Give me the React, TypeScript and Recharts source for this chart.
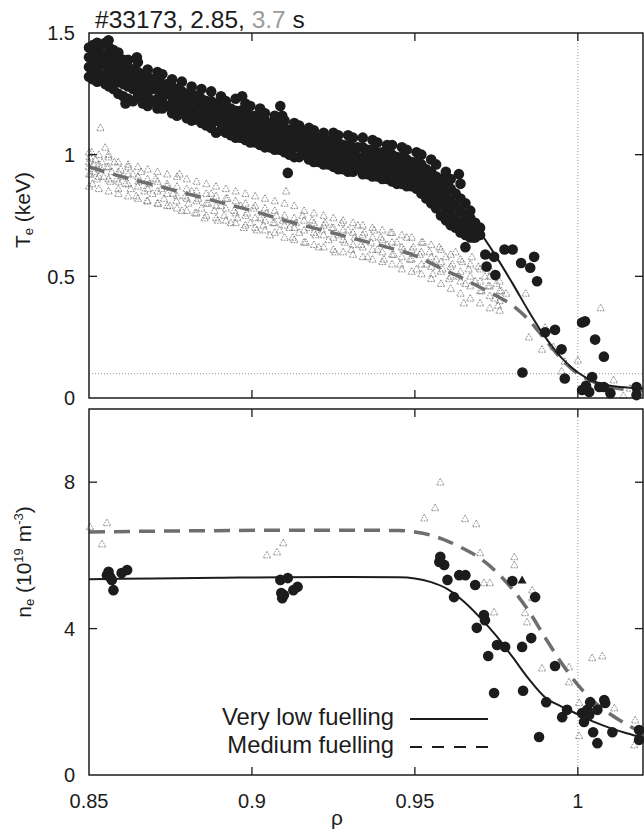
import { ComposedChart, Line, ReferenceLine, Scatter, XAxis, YAxis } from "recharts";

const FONT = '"Liberation Sans", Arial, Helvetica, sans-serif';
const INK = "#1c1c1c";
const FIT_GREY = "#6e6e6e";
const TRI_GREY = "#6f6f6f";

const RHO_MIN = 0.85;
const RHO_MAX = 1.02;
const RHO_DOMAIN: [number, number] = [RHO_MIN, RHO_MAX];
const RHO_TICKS = [0.85, 0.9, 0.95, 1];
const TE_MAX = 1.5;
const TE_TICKS = [0, 0.5, 1, 1.5];
const NE_MAX = 10;
const NE_TICKS = [0, 4, 8];

// top panel, very low fuelling: dense band of black dots, one row per rho with the Te values (keV) read there
const TE_LOW_BAND = [
  [0.85, 1.32, 1.36, 1.4, 1.44],
  [0.8512, 1.31, 1.35, 1.39, 1.43, 1.45],
  [0.8525, 1.3, 1.34, 1.38, 1.42, 1.46],
  [0.8537, 1.31, 1.37, 1.41, 1.45],
  [0.855, 1.29, 1.33, 1.37, 1.41, 1.46],
  [0.8562, 1.28, 1.32, 1.36, 1.4, 1.44],
  [0.8575, 1.27, 1.31, 1.35, 1.39, 1.43],
  [0.859, 1.25, 1.3, 1.34, 1.38, 1.42],
  [0.8605, 1.24, 1.29, 1.33, 1.37, 1.39],
  [0.862, 1.23, 1.28, 1.32, 1.36, 1.39],
  [0.8635, 1.22, 1.27, 1.31, 1.35],
  [0.865, 1.24, 1.26, 1.3, 1.34, 1.38],
  [0.8665, 1.21, 1.25, 1.29, 1.33],
  [0.868, 1.2, 1.24, 1.28, 1.32, 1.35],
  [0.8695, 1.22, 1.27, 1.31],
  [0.871, 1.19, 1.23, 1.27, 1.3, 1.34],
  [0.8725, 1.19, 1.22, 1.26, 1.29, 1.33],
  [0.874, 1.2, 1.25, 1.29],
  [0.8755, 1.17, 1.21, 1.24, 1.28, 1.31],
  [0.877, 1.16, 1.2, 1.24, 1.27],
  [0.8785, 1.17, 1.19, 1.23, 1.26, 1.3],
  [0.88, 1.15, 1.18, 1.22, 1.25],
  [0.8815, 1.14, 1.18, 1.21, 1.25, 1.28],
  [0.883, 1.16, 1.2, 1.24],
  [0.8845, 1.13, 1.16, 1.2, 1.23, 1.27],
  [0.886, 1.12, 1.15, 1.19, 1.22],
  [0.8875, 1.11, 1.15, 1.18, 1.22, 1.26],
  [0.889, 1.09, 1.14, 1.17, 1.21],
  [0.8905, 1.1, 1.13, 1.17, 1.2, 1.24],
  [0.892, 1.09, 1.13, 1.16, 1.2, 1.22],
  [0.8935, 1.08, 1.12, 1.15, 1.19],
  [0.895, 1.07, 1.11, 1.15, 1.18, 1.23],
  [0.8965, 1.07, 1.1, 1.14, 1.18],
  [0.898, 1.06, 1.1, 1.13, 1.17, 1.21],
  [0.8995, 1.05, 1.09, 1.13, 1.16, 1.2],
  [0.901, 1.05, 1.08, 1.12, 1.16],
  [0.9025, 1.04, 1.08, 1.11, 1.15, 1.19],
  [0.904, 1.03, 1.07, 1.11, 1.14, 1.17],
  [0.9055, 1.03, 1.06, 1.1, 1.13],
  [0.907, 1.02, 1.06, 1.09, 1.13, 1.16],
  [0.9085, 1.02, 1.05, 1.09, 1.12],
  [0.91, 1.01, 1.04, 1.08, 1.11, 1.14],
  [0.9115, 1.0, 1.04, 1.07, 1.1],
  [0.913, 0.99, 1.03, 1.07, 1.1, 1.13],
  [0.9145, 0.99, 1.03, 1.06, 1.09, 1.12],
  [0.916, 1.0, 1.02, 1.05, 1.09],
  [0.9175, 0.98, 1.01, 1.05, 1.08, 1.11],
  [0.919, 0.97, 1.01, 1.04, 1.07, 1.1],
  [0.9205, 0.97, 1.0, 1.04, 1.07],
  [0.922, 0.96, 0.99, 1.03, 1.06, 1.09],
  [0.9235, 0.96, 0.99, 1.02, 1.06],
  [0.925, 0.95, 0.98, 1.02, 1.05, 1.09],
  [0.9265, 0.94, 0.98, 1.01, 1.05, 1.08],
  [0.928, 0.94, 0.97, 1.01, 1.04],
  [0.9295, 0.93, 0.97, 1.0, 1.04, 1.08],
  [0.931, 0.93, 0.96, 1.0, 1.03, 1.07],
  [0.9325, 0.95, 0.99, 1.03],
  [0.934, 0.92, 0.96, 0.99, 1.03, 1.07],
  [0.9355, 0.92, 0.95, 0.99, 1.02],
  [0.937, 0.91, 0.95, 0.98, 1.02, 1.06],
  [0.9385, 0.91, 0.94, 0.98, 1.01, 1.05],
  [0.94, 0.9, 0.94, 0.97, 1.01],
  [0.9415, 0.9, 0.93, 0.97, 1.0, 1.04],
  [0.943, 0.89, 0.93, 0.96, 1.0, 1.04],
  [0.9445, 0.88, 0.92, 0.96, 0.99],
  [0.946, 0.88, 0.91, 0.95, 0.99, 1.03],
  [0.9475, 0.87, 0.91, 0.94, 0.98, 1.02],
  [0.949, 0.87, 0.9, 0.94, 0.97],
  [0.9505, 0.86, 0.89, 0.93, 0.97, 1.01],
  [0.952, 0.84, 0.88, 0.92, 0.96, 1.0],
  [0.9535, 0.82, 0.86, 0.9, 0.94],
  [0.955, 0.8, 0.84, 0.89, 0.93, 0.98],
  [0.9565, 0.78, 0.82, 0.87, 0.91, 0.96],
  [0.958, 0.75, 0.8, 0.85, 0.9],
  [0.9595, 0.73, 0.78, 0.83, 0.88, 0.93],
  [0.961, 0.71, 0.76, 0.81, 0.86, 0.9],
  [0.9625, 0.7, 0.74, 0.79, 0.84],
  [0.964, 0.68, 0.72, 0.77, 0.82, 0.88],
  [0.9655, 0.67, 0.71, 0.75, 0.8],
  [0.967, 0.66, 0.7, 0.74, 0.77],
  [0.9685, 0.66, 0.69, 0.72],
  [0.97, 0.67, 0.7],
];

// isolated black dots of the top panel [rho, Te]
const TE_LOW_PTS = [
  [0.856, 1.47], [0.8647, 1.4], [0.8612, 1.21], [0.8764, 1.27], [0.897, 1.24], [0.8825, 1.145],
  [0.9087, 1.2], [0.9093, 1.16], [0.911, 0.925], [0.9635, 0.92],
  [0.9655, 0.62], [0.968, 0.66], [0.9716, 0.59], [0.9743, 0.58], [0.972, 0.54], [0.9747, 0.505],
  [0.9775, 0.61], [0.98, 0.61], [0.9826, 0.555], [0.9854, 0.535], [0.9866, 0.58], [0.9875, 0.48],
  [0.99, 0.27], [0.993, 0.28], [0.995, 0.2], [0.983, 0.105], [0.996, 0.08],
  [1.0013, 0.31], [1.0022, 0.315], [1.0053, 0.24], [1.008, 0.17],
  [1.0013, 0.033], [1.0035, 0.025], [1.0066, 0.045], [1.0044, 0.086], [1.01, 0.02],
  [1.018, 0.045], [1.018, 0.012], [1.008, 0.045], [1.0025, 0.05],
];

// top panel, medium fuelling: cloud of grey open triangles, rows [rho, Te...]
const TE_MED_BAND = [
  [0.85, 0.87, 0.92, 0.97, 1.01],
  [0.853, 0.86, 0.91, 0.96, 1.0],
  [0.856, 0.85, 0.9, 0.95, 0.99],
  [0.859, 0.84, 0.89, 0.93, 0.97],
  [0.862, 0.83, 0.88, 0.92, 0.96],
  [0.865, 0.82, 0.87, 0.91, 0.95],
  [0.868, 0.81, 0.86, 0.9, 0.94],
  [0.871, 0.8, 0.85, 0.89, 0.93],
  [0.874, 0.79, 0.84, 0.88, 0.92],
  [0.877, 0.78, 0.83, 0.87, 0.91],
  [0.88, 0.77, 0.82, 0.86, 0.9],
  [0.883, 0.76, 0.81, 0.85, 0.89],
  [0.886, 0.75, 0.8, 0.84, 0.88],
  [0.889, 0.74, 0.79, 0.83, 0.87],
  [0.892, 0.73, 0.78, 0.82, 0.86],
  [0.895, 0.72, 0.76, 0.81, 0.85],
  [0.898, 0.71, 0.75, 0.8, 0.84],
  [0.901, 0.7, 0.74, 0.79, 0.83],
  [0.904, 0.69, 0.73, 0.78, 0.82],
  [0.907, 0.68, 0.72, 0.77, 0.81],
  [0.91, 0.66, 0.71, 0.75, 0.8],
  [0.913, 0.65, 0.7, 0.74, 0.79],
  [0.916, 0.64, 0.69, 0.73, 0.77],
  [0.919, 0.63, 0.68, 0.72, 0.76],
  [0.922, 0.62, 0.67, 0.71, 0.75],
  [0.925, 0.61, 0.66, 0.7, 0.74],
  [0.928, 0.6, 0.65, 0.69, 0.73],
  [0.931, 0.59, 0.63, 0.68, 0.72],
  [0.934, 0.58, 0.62, 0.67, 0.71],
  [0.937, 0.57, 0.61, 0.66, 0.7],
  [0.94, 0.56, 0.6, 0.65, 0.69],
  [0.943, 0.55, 0.59, 0.64, 0.68],
  [0.946, 0.53, 0.58, 0.62, 0.67],
  [0.949, 0.52, 0.57, 0.61, 0.66],
  [0.952, 0.51, 0.55, 0.6, 0.64],
  [0.955, 0.49, 0.54, 0.58, 0.63],
  [0.958, 0.47, 0.52, 0.56, 0.61],
  [0.961, 0.45, 0.5, 0.54, 0.59],
  [0.964, 0.43, 0.48, 0.52, 0.57],
  [0.967, 0.41, 0.46, 0.5, 0.55],
  [0.97, 0.39, 0.44, 0.48, 0.53],
  [0.973, 0.37, 0.42, 0.46, 0.5],
  [0.976, 0.36, 0.4, 0.44, 0.48],
];

const TE_MED_PTS = [
  [0.85, 0.95], [0.8502, 0.99], [0.8505, 0.92], [0.8508, 1.01], [0.851, 0.88], [0.8513, 0.96], [0.8517, 0.93],
  [0.852, 0.98], [0.8525, 0.9], [0.853, 0.94], [0.8535, 1.11], [0.854, 0.97], [0.8545, 0.91], [0.855, 1.03],
  [0.8555, 0.95], [0.856, 1.0], [0.8565, 0.89], [0.857, 0.93], [0.8578, 0.97], [0.8585, 0.9], [0.859, 0.86],
  [0.8597, 0.94], [0.8605, 0.91], [0.8612, 0.88], [0.862, 0.95], [0.8628, 0.86], [0.8635, 0.92], [0.8645, 0.83],
  [0.8652, 0.89], [0.866, 0.93], [0.867, 0.85], [0.8678, 0.81], [0.8685, 0.88], [0.8695, 0.84], [0.8705, 0.9],
  [0.8712, 0.8], [0.8722, 0.86], [0.873, 0.82], [0.874, 0.87], [0.8748, 0.79], [0.8758, 0.84], [0.8768, 0.81],
  [0.8778, 0.92], [0.8785, 0.77], [0.8795, 0.83], [0.8805, 0.8], [0.8815, 0.85], [0.8825, 0.76], [0.8835, 0.82],
  [0.8845, 0.78], [0.8855, 0.74], [0.8865, 0.8], [0.8875, 0.84], [0.8885, 0.77], [0.8895, 0.73], [0.8905, 0.79],
  [0.8915, 0.75], [0.8925, 0.82], [0.8935, 0.72], [0.8945, 0.77], [0.8955, 0.74], [0.8965, 0.79], [0.8975, 0.7],
  [0.8985, 0.76], [0.8995, 0.72], [0.9005, 0.78], [0.9015, 0.69], [0.9025, 0.74], [0.9035, 0.71], [0.9045, 0.76],
  [0.9055, 0.67], [0.9065, 0.72], [0.9075, 0.75], [0.9085, 0.69], [0.9095, 0.73], [0.9105, 0.85], [0.9115, 0.7],
  [0.9125, 0.66], [0.9135, 0.72], [0.9145, 0.68], [0.9155, 0.75], [0.9165, 0.64], [0.9175, 0.7], [0.9185, 0.73],
  [0.9195, 0.67], [0.9205, 0.62], [0.9215, 0.69], [0.9225, 0.72], [0.9235, 0.65], [0.9245, 0.7], [0.9255, 0.6],
  [0.9265, 0.67], [0.9275, 0.72], [0.9285, 0.64], [0.9295, 0.69], [0.9305, 0.61], [0.9315, 0.66], [0.9325, 0.71],
  [0.9335, 0.63], [0.9345, 0.68], [0.9355, 0.58], [0.9365, 0.64], [0.9375, 0.69], [0.9385, 0.61], [0.9395, 0.66],
  [0.9405, 0.57], [0.9415, 0.63], [0.9425, 0.68], [0.9435, 0.59], [0.9445, 0.64], [0.9455, 0.55], [0.9465, 0.61],
  [0.9475, 0.66], [0.9485, 0.57], [0.9495, 0.62], [0.9505, 0.53], [0.9515, 0.59], [0.9525, 0.64], [0.9535, 0.55],
  [0.9545, 0.6], [0.9555, 0.51], [0.9565, 0.57], [0.9575, 0.62], [0.9585, 0.53], [0.9595, 0.58], [0.9605, 0.49],
  [0.9615, 0.55], [0.9625, 0.6], [0.9635, 0.5], [0.9645, 0.56], [0.9655, 0.47], [0.9665, 0.53], [0.9675, 0.58],
  [0.9685, 0.48], [0.9695, 0.54], [0.9705, 0.44], [0.9715, 0.5], [0.9725, 0.46], [0.9735, 0.52], [0.9745, 0.41],
  [0.975, 0.47], [0.9755, 0.38], [0.9765, 0.44], [0.965, 0.39], [0.978, 0.43], [0.984, 0.43], [0.985, 0.25],
  [0.989, 0.2], [0.99, 0.29], [0.9925, 0.21], [0.995, 0.11], [0.996, 0.15], [1.0, 0.155], [1.003, 0.06],
  [1.007, 0.37], [1.011, 0.074], [1.014, 0.01], [1.016, 0.04],
];

// fitted profiles
const TE_LOW_FIT = [
  [0.85, 1.4], [0.86, 1.35], [0.87, 1.29], [0.88, 1.235], [0.89, 1.18], [0.9, 1.13], [0.91, 1.08],
  [0.92, 1.03], [0.93, 0.985], [0.94, 0.935], [0.945, 0.91], [0.95, 0.88], [0.955, 0.84], [0.96, 0.8],
  [0.965, 0.75], [0.97, 0.68], [0.975, 0.58], [0.98, 0.47], [0.985, 0.355], [0.99, 0.25], [0.995, 0.165],
  [1.0, 0.105], [1.005, 0.068], [1.01, 0.05], [1.015, 0.043], [1.02, 0.04],
];
const TE_MED_FIT = [
  [0.85, 0.95], [0.86, 0.91], [0.87, 0.875], [0.88, 0.84], [0.89, 0.805], [0.9, 0.77], [0.91, 0.73],
  [0.92, 0.695], [0.93, 0.66], [0.94, 0.625], [0.95, 0.585], [0.96, 0.52], [0.965, 0.49], [0.97, 0.455],
  [0.975, 0.42], [0.98, 0.38], [0.985, 0.32], [0.99, 0.24], [0.995, 0.16], [1.0, 0.1], [1.005, 0.065],
  [1.01, 0.045], [1.02, 0.03],
];

// bottom panel, ne (1e19 m^-3) vs rho
const NE_LOW_PTS = [
  [0.8555, 5.46], [0.856, 5.55], [0.8565, 5.41], [0.857, 5.33], [0.8575, 5.05], [0.86, 5.52], [0.8617, 5.6],
  [0.9087, 5.33], [0.911, 5.38], [0.909, 4.97], [0.9093, 4.83], [0.9098, 4.92], [0.9127, 5.05], [0.914, 5.14],
  [0.9578, 5.96], [0.9575, 5.82], [0.959, 5.74], [0.96, 5.33], [0.9636, 5.46], [0.9655, 5.46], [0.9685, 5.19],
  [0.962, 4.86], [0.9712, 4.37], [0.9715, 4.23], [0.969, 4.02], [0.9752, 3.55], [0.9777, 3.5], [0.9725, 3.25],
  [0.9743, 2.24], [0.9799, 5.3], [0.9829, 3.5], [0.9857, 3.74], [0.9869, 4.86], [0.9832, 2.3], [0.9881, 1.04],
  [0.9903, 1.99], [0.993, 2.98], [0.9952, 1.58], [0.9967, 1.78], [1.0013, 1.69], [1.0019, 1.45], [1.0029, 1.78],
  [1.0038, 1.99], [1.0035, 1.64], [1.0047, 1.17], [1.006, 1.78], [1.006, 0.87], [1.0081, 2.05], [1.0084, 1.97],
  [1.0106, 1.17], [1.0188, 1.23], [1.0188, 0.96],
];
const NE_LOW_MARK = [[0.9829, 5.33]];
const NE_MED_PTS = [
  [0.8503, 6.78], [0.8555, 6.89], [0.854, 6.31], [0.9046, 6.01], [0.9077, 6.09], [0.9096, 6.34],
  [0.9578, 8.0], [0.9562, 7.3], [0.9529, 7.02], [0.9654, 7.0], [0.9688, 6.86], [0.97, 6.07], [0.9712, 5.25],
  [0.973, 5.25], [0.9743, 4.45], [0.9805, 5.96], [0.9805, 5.74], [0.986, 5.05], [0.986, 4.84], [0.9838, 4.43],
  [0.9844, 4.18], [0.989, 2.92], [0.9973, 2.95], [0.9973, 2.54], [1.0004, 1.97], [1.0004, 1.07], [1.0044, 3.2],
  [1.0075, 3.25], [1.0112, 1.83], [1.0176, 1.5], [1.0173, 0.82],
];
const NE_LOW_FIT = [
  [0.85, 5.35], [0.87, 5.37], [0.89, 5.39], [0.91, 5.4], [0.93, 5.41], [0.945, 5.4], [0.95, 5.37],
  [0.955, 5.27], [0.96, 5.08], [0.965, 4.74], [0.97, 4.3], [0.975, 3.8], [0.98, 3.22], [0.985, 2.62],
  [0.99, 2.12], [0.995, 1.87], [1.0, 1.66], [1.005, 1.45], [1.01, 1.28], [1.015, 1.14], [1.02, 1.02],
];
const NE_MED_FIT = [
  [0.85, 6.64], [0.88, 6.67], [0.92, 6.69], [0.945, 6.68], [0.95, 6.64], [0.955, 6.55], [0.96, 6.39],
  [0.965, 6.18], [0.97, 5.92], [0.975, 5.55], [0.98, 5.07], [0.985, 4.47], [0.99, 3.75], [0.995, 3.06],
  [1.0, 2.46], [1.005, 2.0], [1.01, 1.66], [1.015, 1.38], [1.02, 1.13],
];

const LEGEND_ITEMS = [
  { label: "Very low fuelling", dash: undefined },
  { label: "Medium fuelling", dash: "12 10" },
];

// page layout of the two panels (chart margins below are derived from these)
const PAGE_W = 644;
const PLOT_LEFT = 89;
const PLOT_RIGHT = 643;
const Y_AXIS_W = 60;
const TICK_PX = 8;
const PANELS = [
  { key: "te", top: 33, bottom: 398, yMax: TE_MAX, yTicks: TE_TICKS },
  { key: "ne", top: 409, bottom: 775, yMax: NE_MAX, yTicks: NE_TICKS },
];

const toXY = (pairs: number[][]) => pairs.map(([x, y]) => ({ x, y }));
const rowsToXY = (rows: number[][]) => rows.flatMap(([x, ...ys]) => ys.map((y) => ({ x, y })));

function BlackDot(props: any) {
  const { cx, cy } = props;
  if (cx == null || cy == null) return null;
  return <circle cx={cx} cy={cy} r={5.3} fill={INK} />;
}

function OpenTriangle(props: any) {
  const { cx, cy } = props;
  if (cx == null || cy == null) return null;
  const s = 3.8;
  return (
    <polygon
      points={`${cx},${cy - s} ${cx + s},${cy + s * 0.75} ${cx - s},${cy + s * 0.75}`}
      fill="none"
      stroke={TRI_GREY}
      strokeWidth={0.8}
      strokeDasharray="1.6 1"
    />
  );
}

function FilledTriangle(props: any) {
  const { cx, cy } = props;
  if (cx == null || cy == null) return null;
  const s = 4.5;
  return <polygon points={`${cx},${cy - s} ${cx + s},${cy + s * 0.8} ${cx - s},${cy + s * 0.8}`} fill={INK} />;
}

const tickText = { fontFamily: FONT, fontSize: 20, fill: INK };

function LeftLabel({ x, y, payload }: any) {
  return (
    <text x={x - 14} y={y} dy="0.36em" textAnchor="end" {...tickText}>
      {String(payload.value)}
    </text>
  );
}

function BottomLabel({ x, y, payload, show }: any) {
  if (!show) return <g />;
  return (
    <text x={x} y={y + 33} textAnchor="middle" {...tickText}>
      {String(payload.value)}
    </text>
  );
}

function axes(yMax: number, yTicks: number[], xLabels: boolean) {
  return [
    <XAxis
      key="xb"
      type="number"
      dataKey="x"
      domain={RHO_DOMAIN}
      ticks={RHO_TICKS}
      interval={0}
      height={1}
      tickSize={0}
      tickMargin={0}
      tickLine={false}
      axisLine={false}
      tick={(p: any) => <BottomLabel {...p} show={xLabels} />}
    />,
    <YAxis
      key="yl"
      type="number"
      dataKey="y"
      domain={[0, yMax]}
      ticks={yTicks}
      interval={0}
      width={Y_AXIS_W}
      tickSize={0}
      tickMargin={0}
      tickLine={false}
      axisLine={false}
      tick={(p: any) => <LeftLabel {...p} />}
    />,
  ];
}

// box and inward ticks of one panel (axis furniture, not data)
function PanelFrame({ top, bottom, yMax, yTicks }: (typeof PANELS)[number]) {
  const px = (t: number) => PLOT_LEFT + ((t - RHO_MIN) / (RHO_MAX - RHO_MIN)) * (PLOT_RIGHT - PLOT_LEFT);
  const py = (v: number) => bottom - (v / yMax) * (bottom - top);
  return (
    <g stroke={INK} fill="none">
      <rect x={PLOT_LEFT} y={top} width={PLOT_RIGHT - PLOT_LEFT} height={bottom - top} strokeWidth={1.5} />
      {RHO_TICKS.filter((t) => t > RHO_MIN).map((t) => (
        <g key={`x${t}`} strokeWidth={1.3}>
          <line x1={px(t)} x2={px(t)} y1={bottom} y2={bottom - TICK_PX} />
          <line x1={px(t)} x2={px(t)} y1={top} y2={top + TICK_PX} />
        </g>
      ))}
      {yTicks.filter((v) => v > 0 && v < yMax).map((v) => (
        <g key={`y${v}`} strokeWidth={1.3}>
          <line x1={PLOT_LEFT} x2={PLOT_LEFT + TICK_PX} y1={py(v)} y2={py(v)} />
          <line x1={PLOT_RIGHT} x2={PLOT_RIGHT - TICK_PX} y1={py(v)} y2={py(v)} />
        </g>
      ))}
    </g>
  );
}

export default function App() {
  const [p1, p2] = PANELS;
  const h1 = 420;
  const h2 = 433;
  const top2 = 400;
  return (
    <div style={{ position: "absolute", left: 0, top: 0, width: PAGE_W, height: 833, background: "#fff" }}>
      <div style={{ position: "absolute", left: 0, top: 0 }}>
        <ComposedChart
          width={PAGE_W}
          height={h1}
          margin={{ top: p1.top, right: PAGE_W - PLOT_RIGHT, bottom: h1 - p1.bottom - 1, left: PLOT_LEFT - Y_AXIS_W }}
        >
          {axes(TE_MAX, TE_TICKS, false)}
          <ReferenceLine x={1} stroke="#9a9a9a" strokeDasharray="1 2" />
          <ReferenceLine y={0.1} stroke="#9a9a9a" strokeDasharray="1 2" />
          <Scatter data={rowsToXY(TE_MED_BAND)} shape={OpenTriangle} isAnimationActive={false} />
          <Scatter data={toXY(TE_MED_PTS)} shape={OpenTriangle} isAnimationActive={false} />
          <Line
            data={toXY(TE_MED_FIT)}
            dataKey="y"
            type="monotone"
            stroke={FIT_GREY}
            strokeWidth={3.5}
            strokeDasharray="16 9"
            dot={false}
            isAnimationActive={false}
          />
          <Scatter data={rowsToXY(TE_LOW_BAND)} shape={BlackDot} isAnimationActive={false} />
          <Scatter data={toXY(TE_LOW_PTS)} shape={BlackDot} isAnimationActive={false} />
          <Line
            data={toXY(TE_LOW_FIT)}
            dataKey="y"
            type="monotone"
            stroke={INK}
            strokeWidth={2}
            dot={false}
            isAnimationActive={false}
          />
        </ComposedChart>
      </div>
      <div style={{ position: "absolute", left: 0, top: top2 }}>
        <ComposedChart
          width={PAGE_W}
          height={h2}
          margin={{
            top: p2.top - top2,
            right: PAGE_W - PLOT_RIGHT,
            bottom: top2 + h2 - p2.bottom - 1,
            left: PLOT_LEFT - Y_AXIS_W,
          }}
        >
          {axes(NE_MAX, NE_TICKS, true)}
          <ReferenceLine x={1} stroke="#9a9a9a" strokeDasharray="1 2" />
          <Scatter data={toXY(NE_MED_PTS)} shape={OpenTriangle} isAnimationActive={false} />
          <Line
            data={toXY(NE_MED_FIT)}
            dataKey="y"
            type="monotone"
            stroke={FIT_GREY}
            strokeWidth={3.5}
            strokeDasharray="16 9"
            dot={false}
            isAnimationActive={false}
          />
          <Scatter data={toXY(NE_LOW_PTS)} shape={BlackDot} isAnimationActive={false} />
          <Scatter data={toXY(NE_LOW_MARK)} shape={FilledTriangle} isAnimationActive={false} />
          <Line
            data={toXY(NE_LOW_FIT)}
            dataKey="y"
            type="monotone"
            stroke={INK}
            strokeWidth={2}
            dot={false}
            isAnimationActive={false}
          />
        </ComposedChart>
      </div>
      <svg
        width={PAGE_W}
        height={833}
        style={{ position: "absolute", left: 0, top: 0, pointerEvents: "none" }}
        fontFamily={FONT}
        fill={INK}
      >
        {PANELS.map((p) => (
          <PanelFrame key={p.key} {...p} />
        ))}
        <text x={95} y={28} fontSize={24.5}>
          #33173, 2.85, <tspan fill="#9b9b9b">3.7</tspan> s
        </text>
        <text transform="translate(30,210) rotate(-90)" textAnchor="middle" fontSize={21}>
          T<tspan fontSize={13} dy={3}>e</tspan>
          <tspan dy={-3}> (keV)</tspan>
        </text>
        <text transform="translate(31,562) rotate(-90)" textAnchor="middle" fontSize={21}>
          n<tspan fontSize={13} dy={3}>e</tspan>
          <tspan dy={-3}> (10</tspan>
          <tspan fontSize={13} dy={-8}>19</tspan>
          <tspan dy={8}> m</tspan>
          <tspan fontSize={13} dy={-8}>-3</tspan>
          <tspan dy={8}>)</tspan>
        </text>
        <text x={337} y={825} textAnchor="middle" fontSize={21}>
          ρ
        </text>
        {LEGEND_ITEMS.map((item, i) => (
          <g key={item.label}>
            <text x={394} y={725 + i * 28} textAnchor="end" fontSize={23.8}>
              {item.label}
            </text>
            <line
              x1={410}
              x2={488}
              y1={719 + i * 28}
              y2={719 + i * 28}
              stroke={INK}
              strokeWidth={2}
              strokeDasharray={item.dash}
            />
          </g>
        ))}
      </svg>
    </div>
  );
}
